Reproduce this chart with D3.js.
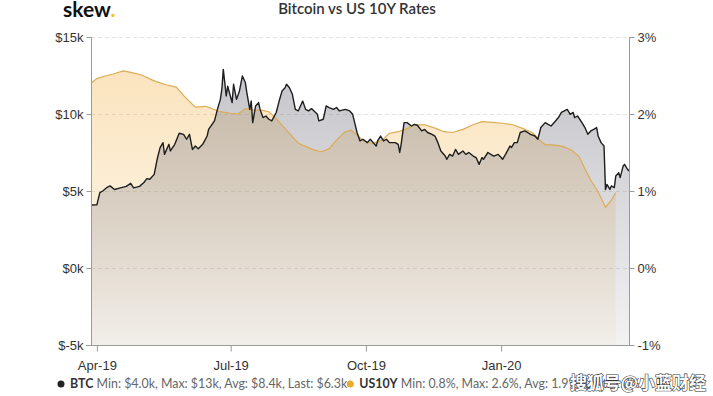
<!DOCTYPE html>
<html>
<head>
<meta charset="utf-8">
<script src="https://cdn.jsdelivr.net/npm/d3@7"></script>
<style>
	body { margin: 0; background: #fff; }
	svg { display: block; font-family: Lato, "Open Sans", sans-serif; }
	.axis-label { font-size: 13px; fill: #333; }
	.legend-name { font-size: 12.4px; font-weight: 700; fill: #333; }
	.legend-stats { font-size: 12.4px; fill: #666; }
</style>
</head>
<body>
<svg id="chart" width="713" height="396"></svg>
<script>
// BTC close, in $k
var btcSeries = [
	["2019-03-28",4.09],["2019-04-01",4.1],["2019-04-03",4.9],["2019-04-05",5.0],["2019-04-08",5.24],["2019-04-10",5.33],
	["2019-04-13",5.1],["2019-04-17",5.2],["2019-04-21",5.3],["2019-04-24",5.5],["2019-04-26",5.2],["2019-04-30",5.3],
	["2019-05-03",5.55],["2019-05-05",5.8],["2019-05-07",5.76],["2019-05-10",6.08],["2019-05-12",7.06],["2019-05-14",7.82],
	["2019-05-16",8.14],["2019-05-17",7.38],["2019-05-20",8.03],["2019-05-21",7.6],["2019-05-24",8.03],["2019-05-27",8.75],
	["2019-05-30",8.68],["2019-06-01",8.36],["2019-06-03",8.68],["2019-06-05",7.7],["2019-06-07",7.92],["2019-06-09",7.75],
	["2019-06-12",8.03],["2019-06-15",8.57],["2019-06-16",9.0],["2019-06-20",9.55],["2019-06-22",10.3],["2019-06-24",10.95],
	["2019-06-25",11.6],["2019-06-26",12.9],["2019-06-28",11.17],["2019-06-29",11.8],["2019-07-02",10.74],["2019-07-03",11.93],
	["2019-07-05",10.95],["2019-07-07",11.5],["2019-07-09",12.47],["2019-07-11",12.04],["2019-07-12",11.4],["2019-07-14",10.3],
	["2019-07-15",10.84],["2019-07-16",9.44],["2019-07-18",10.52],["2019-07-20",10.74],["2019-07-21",10.3],["2019-07-23",9.77],
	["2019-07-25",9.87],["2019-07-27",9.66],["2019-07-29",9.55],["2019-08-01",10.1],["2019-08-03",10.84],["2019-08-05",11.5],
	["2019-08-07",11.7],["2019-08-08",11.93],["2019-08-10",11.7],["2019-08-12",11.28],["2019-08-14",10.3],["2019-08-16",10.2],
	["2019-08-19",10.84],["2019-08-21",10.3],["2019-08-23",10.2],["2019-08-25",10.35],["2019-08-29",9.98],["2019-08-30",9.55],
	["2019-09-02",9.66],["2019-09-04",10.52],["2019-09-06",10.42],["2019-09-09",10.3],["2019-09-11",10.42],["2019-09-13",10.2],
	["2019-09-17",10.3],["2019-09-20",10.2],["2019-09-22",9.98],["2019-09-25",8.8],["2019-09-27",8.25],["2019-09-29",8.36],
	["2019-10-02",8.14],["2019-10-04",8.36],["2019-10-06",8.14],["2019-10-08",7.92],["2019-10-09",8.25],["2019-10-11",8.57],
	["2019-10-13",8.25],["2019-10-15",8.36],["2019-10-17",8.14],["2019-10-21",8.14],["2019-10-23",8.03],["2019-10-24",7.5],
	["2019-10-25",8.03],["2019-10-27",9.44],["2019-10-29",9.44],["2019-11-01",9.22],["2019-11-03",9.33],["2019-11-05",9.27],
	["2019-11-08",8.9],["2019-11-10",9.0],["2019-11-12",8.8],["2019-11-15",8.68],["2019-11-17",8.57],["2019-11-19",8.14],
	["2019-11-21",7.6],["2019-11-24",7.27],["2019-11-25",7.06],["2019-11-27",7.38],["2019-11-29",7.27],["2019-12-01",7.7],
	["2019-12-03",7.38],["2019-12-06",7.6],["2019-12-08",7.38],["2019-12-10",7.5],["2019-12-13",7.27],["2019-12-15",7.17],
	["2019-12-17",6.73],["2019-12-19",7.17],["2019-12-20",7.06],["2019-12-23",7.5],["2019-12-25",7.38],["2019-12-27",7.27],
	["2019-12-30",7.38],["2020-01-01",7.17],["2020-01-02",7.06],["2020-01-04",7.38],["2020-01-07",7.92],["2020-01-08",7.82],
	["2020-01-10",8.14],["2020-01-12",8.14],["2020-01-14",8.8],["2020-01-17",8.9],["2020-01-19",8.8],["2020-01-21",8.68],
	["2020-01-24",8.57],["2020-01-26",8.36],["2020-01-28",9.12],["2020-01-31",9.44],["2020-02-02",9.33],["2020-02-04",9.22],
	["2020-02-07",9.55],["2020-02-09",9.77],["2020-02-11",10.1],["2020-02-13",10.2],["2020-02-15",10.3],["2020-02-17",9.98],
	["2020-02-19",10.1],["2020-02-20",9.77],["2020-02-22",9.87],["2020-02-25",9.44],["2020-02-27",9.12],["2020-02-29",8.68],
	["2020-03-02",8.9],["2020-03-04",9.0],["2020-03-06",9.12],["2020-03-07",8.57],["2020-03-09",8.14],["2020-03-11",7.92],
	["2020-03-12",5.1],["2020-03-13",5.43],["2020-03-15",5.1],["2020-03-16",5.33],["2020-03-18",5.22],["2020-03-19",5.97],
	["2020-03-21",6.19],["2020-03-22",5.87],["2020-03-24",6.62],["2020-03-25",6.73],["2020-03-27",6.41],["2020-03-28",6.3]
];

// US 10Y yield, in %
var rateSeries = [
	["2019-03-28",2.40],["2019-04-01",2.46],["2019-04-06",2.49],["2019-04-12",2.52],["2019-04-19",2.56],["2019-04-24",2.54],
	["2019-05-01",2.51],["2019-05-10",2.43],["2019-05-18",2.38],["2019-05-25",2.35],["2019-05-31",2.22],["2019-06-07",2.09],
	["2019-06-14",2.10],["2019-06-24",2.03],["2019-07-01",2.01],["2019-07-06",2.00],["2019-07-11",2.07],["2019-07-16",2.05],
	["2019-07-22",2.05],["2019-07-27",2.03],["2019-08-01",1.94],["2019-08-08",1.79],["2019-08-16",1.62],["2019-08-21",1.58],
	["2019-08-27",1.53],["2019-09-01",1.51],["2019-09-06",1.55],["2019-09-12",1.68],["2019-09-17",1.77],["2019-09-21",1.79],
	["2019-09-26",1.71],["2019-09-30",1.64],["2019-10-06",1.62],["2019-10-12",1.66],["2019-10-17",1.75],["2019-10-23",1.77],
	["2019-10-29",1.81],["2019-11-03",1.86],["2019-11-10",1.86],["2019-11-18",1.81],["2019-11-23",1.77],["2019-11-29",1.76],
	["2019-12-06",1.80],["2019-12-13",1.86],["2019-12-19",1.90],["2019-12-26",1.89],["2020-01-02",1.88],["2020-01-09",1.86],
	["2020-01-16",1.81],["2020-01-23",1.75],["2020-01-27",1.66],["2020-01-31",1.60],["2020-02-05",1.60],["2020-02-12",1.58],
	["2020-02-18",1.53],["2020-02-23",1.45],["2020-02-27",1.29],["2020-03-02",1.14],["2020-03-07",0.99],["2020-03-12",0.79],
	["2020-03-16",0.88],["2020-03-19",0.98]
];

var btcTicks = [-5, 0, 5, 10, 15];
var rateTicks = [-1, 0, 1, 2, 3];
var xTicks = ["2019-04-01", "2019-07-01", "2019-10-01", "2020-01-01"];
var dateDomain = ["2019-03-28", "2020-03-28"];

var legendItems = [
	{name: "BTC", stats: "Min: $4.0k, Max: $13k, Avg: $8.4k, Last: $6.3k", color: "#222"},
	{name: "US10Y", stats: "Min: 0.8%, Max: 2.6%, Avg: 1.9%, Last: 1.0%", color: "#e8ab2e"}
];

(function() {
	var parse = d3.timeParse("%Y-%m-%d");
	var plot = {left: 91, right: 629, top: 37, bottom: 345};

	var svg = d3.select("#chart");

	var x = d3.scaleTime().domain(dateDomain.map(parse)).range([plot.left, plot.right]);
	var yBtc = d3.scaleLinear().domain([-5, 15]).range([plot.bottom, plot.top]);
	var yRate = d3.scaleLinear().domain([-1, 3]).range([plot.bottom, plot.top]);

	var btc = btcSeries.map(function(d) { return {date: parse(d[0]), value: d[1]}; });
	var rate = rateSeries.map(function(d) { return {date: parse(d[0]), value: d[1]}; });

	// gradients for the area fills
	var defs = svg.append("defs");
	function addGradient(id, color, from, to) {
		var g = defs.append("linearGradient").attr("id", id)
			.attr("gradientUnits", "userSpaceOnUse")
			.attr("x1", 0).attr("y1", plot.top).attr("x2", 0).attr("y2", plot.bottom);
		g.append("stop").attr("offset", 0).attr("stop-color", color).attr("stop-opacity", from);
		g.append("stop").attr("offset", 1).attr("stop-color", color).attr("stop-opacity", to);
	}
	addGradient("gradRate", "rgb(242,176,66)", 0.38, 0.06);
	addGradient("gradBtc", "rgb(128,128,139)", 0.5, 0.1);

	// grid
	svg.append("g").selectAll("line")
		.data(btcTicks.filter(function(t) { return t > -5; }))
		.join("line")
		.attr("x1", plot.left).attr("x2", plot.right)
		.attr("y1", function(d) { return yBtc(d) + 0.5; })
		.attr("y2", function(d) { return yBtc(d) + 0.5; })
		.attr("stroke", "#e3e3e3")
		.attr("stroke-dasharray", "4,3");

	// areas
	svg.append("path")
		.datum(rate)
		.attr("fill", "url(#gradRate)")
		.attr("d", d3.area().x(function(d) { return x(d.date); }).y0(plot.bottom).y1(function(d) { return yRate(d.value); }));

	svg.append("path")
		.datum(btc)
		.attr("fill", "url(#gradBtc)")
		.attr("d", d3.area().x(function(d) { return x(d.date); }).y0(plot.bottom).y1(function(d) { return yBtc(d.value); }));

	// lines
	svg.append("path")
		.datum(rate)
		.attr("fill", "none")
		.attr("stroke", "#dcab55")
		.attr("stroke-width", 1.2)
		.attr("d", d3.line().x(function(d) { return x(d.date); }).y(function(d) { return yRate(d.value); }));

	svg.append("path")
		.datum(btc)
		.attr("fill", "none")
		.attr("stroke", "#1e1e1e")
		.attr("stroke-width", 1.4)
		.attr("stroke-linejoin", "round")
		.attr("d", d3.line().x(function(d) { return x(d.date); }).y(function(d) { return yBtc(d.value); }));

	// axes
	var axisColor = "#9a9a9a";

	var leftAxis = svg.append("g")
		.attr("transform", "translate(" + (plot.left + 0.5) + ",0)")
		.call(d3.axisLeft(yBtc).tickValues(btcTicks).tickSize(5).tickPadding(3)
			.tickFormat(function(d) { return "$" + d + "k"; }));

	var rightAxis = svg.append("g")
		.attr("transform", "translate(" + (plot.right + 0.5) + ",0)")
		.call(d3.axisRight(yRate).tickValues(rateTicks).tickSize(5).tickPadding(3)
			.tickFormat(function(d) { return d + "%"; }));

	var bottomAxis = svg.append("g")
		.attr("transform", "translate(0," + (plot.bottom + 0.5) + ")")
		.call(d3.axisBottom(x).tickValues(xTicks.map(parse)).tickSize(6).tickPadding(9)
			.tickFormat(d3.timeFormat("%b-%y")));

	[leftAxis, rightAxis, bottomAxis].forEach(function(axis) {
		axis.select(".domain").attr("stroke", axisColor);
		axis.selectAll(".tick line").attr("stroke", axisColor);
		axis.selectAll(".tick text").attr("class", "axis-label").attr("font-family", null).attr("font-size", null);
	});
	leftAxis.select(".domain").attr("d", "M0," + plot.top + "V" + plot.bottom);
	rightAxis.select(".domain").attr("d", "M0," + plot.top + "V" + plot.bottom);
	bottomAxis.select(".domain").attr("d", "M" + (plot.left - 5) + ",0H" + (plot.right + 5));

	// header
	var logo = svg.append("text")
		.attr("x", 63).attr("y", 17)
		.attr("font-size", 21).attr("font-weight", 700).attr("fill", "#111");
	logo.append("tspan").text("skew");
	logo.append("tspan").attr("fill", "#f0c419").text(".");

	svg.append("text")
		.attr("x", 357).attr("y", 14)
		.attr("text-anchor", "middle")
		.attr("font-size", 15).attr("font-weight", 600).attr("fill", "#333")
		.text("Bitcoin vs US 10Y Rates");

	// legend
	var legend = svg.append("g").attr("transform", "translate(61,388)");
	var offset = 0;
	legendItems.forEach(function(item) {
		var g = legend.append("g").attr("transform", "translate(" + offset + ",0)");
		g.append("circle").attr("cx", 0).attr("cy", -4).attr("r", 3.5).attr("fill", item.color);
		var t = g.append("text").attr("x", 9);
		t.append("tspan").attr("class", "legend-name").text(item.name);
		t.append("tspan").attr("class", "legend-stats").text(" " + item.stats);
		offset += t.node().getComputedTextLength() + 12;
	});

	// watermark
	svg.append("text")
		.attr("x", 706).attr("y", 389)
		.attr("text-anchor", "end")
		.attr("font-family", "Noto Sans CJK SC")
		.attr("font-size", 17).attr("font-weight", 700)
		.attr("fill", "#fff").attr("stroke", "#333").attr("stroke-width", 1.2)
		.attr("paint-order", "stroke")
		.text("搜狐号@小蓝财经");
})();
</script>
</body>
</html>
